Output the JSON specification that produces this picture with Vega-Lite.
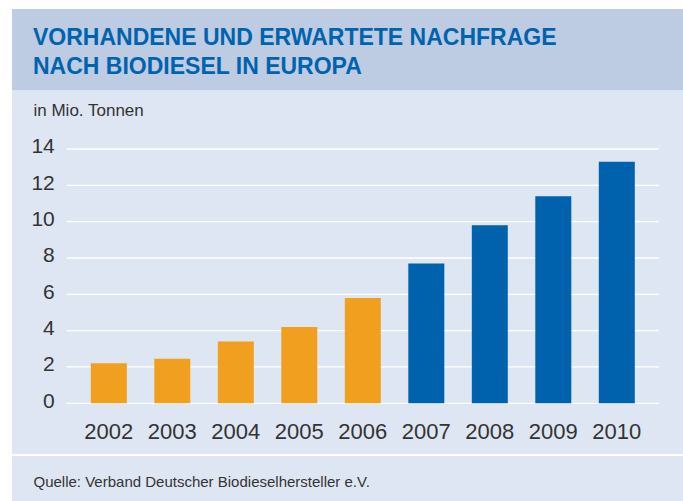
{
  "$schema": "https://vega.github.io/schema/vega-lite/v6.json",
  "background": "#ffffff",
  "padding": {"left": 12, "top": 9, "right": 0, "bottom": 0},
  "spacing": 0,
  "bounds": "flush",
  "config": {"view": {"stroke": null}, "font": "Liberation Sans"},
  "vconcat": [
    {
      "width": 671,
      "height": 81,
      "view": {"fill": "#bdcbe3", "stroke": null},
      "title": {
        "text": ["VORHANDENE UND ERWARTETE NACHFRAGE", "NACH BIODIESEL IN EUROPA"],
        "anchor": "start", "frame": "group", "orient": "top", "offset": 0,
        "dx": 21, "dy": 88.3, "baseline": "alphabetic",
        "font": "Liberation Sans", "fontSize": 23, "fontWeight": "bold",
        "color": "#0063ad", "lineHeight": 29.3
      },
      "data": {"values": [{}]},
      "mark": {"type": "text", "text": ""},
      "encoding": {}
    },
    {
      "spacing": 2,
      "bounds": "flush",
      "vconcat": [
        {
          "width": 671,
          "height": 364,
          "view": {"fill": "#dfe6f3", "stroke": null},
          "title": {
            "text": "in Mio. Tonnen",
            "anchor": "start", "frame": "group", "orient": "top", "offset": 0,
            "dx": 21.5, "dy": 43, "baseline": "alphabetic",
            "font": "Liberation Sans", "fontSize": 17, "fontWeight": "normal",
            "color": "#333333"
          },
          "data": {
            "values": [
              {"year": "2002", "value": 2.2, "status": "vorhanden"},
              {"year": "2003", "value": 2.45, "status": "vorhanden"},
              {"year": "2004", "value": 3.4, "status": "vorhanden"},
              {"year": "2005", "value": 4.2, "status": "vorhanden"},
              {"year": "2006", "value": 5.8, "status": "vorhanden"},
              {"year": "2007", "value": 7.7, "status": "erwartet"},
              {"year": "2008", "value": 9.8, "status": "erwartet"},
              {"year": "2009", "value": 11.4, "status": "erwartet"},
              {"year": "2010", "value": 13.3, "status": "erwartet"}
            ]
          },
          "layer": [
            {
              "data": {"values": [{"g": 0}, {"g": 2}, {"g": 4}, {"g": 6}, {"g": 8}, {"g": 10}, {"g": 12}, {"g": 14}]},
              "mark": {"type": "rule", "color": "#ffffff", "strokeWidth": 1.3},
              "encoding": {
                "y": {
                  "field": "g", "type": "quantitative",
                  "axis": {
                    "title": null, "values": [0, 2, 4, 6, 8, 10, 12, 14], "domain": false,
                    "ticks": false, "tickSize": 0, "labelPadding": 0, "offset": -42.3,
                    "grid": false, "labelFontSize": 21, "labelColor": "#333333",
                    "labelFont": "Liberation Sans", "labelBaseline": "middle", "labelOffset": -2,
                    "labelFlush": false, "labelOverlap": false
                  }
                },
                "x": {
                  "datum": "2002", "type": "ordinal", "bandPosition": -0.669,
                  "axis": {
                    "title": null, "labelAngle": 0, "domain": false, "ticks": false, "tickSize": 0,
                    "labelPadding": 0, "offset": -15.7, "labelBaseline": "alphabetic",
                    "labelFontSize": 22, "labelColor": "#333333", "labelFont": "Liberation Sans",
                    "grid": false, "labelOverlap": false
                  }
                },
                "x2": {"datum": "2010", "bandPosition": 1.672}
              }
            },
            {
              "mark": {"type": "bar"},
              "encoding": {
                "x": {
                  "field": "year", "type": "ordinal",
                  "scale": {
                    "domain": ["2002", "2003", "2004", "2005", "2006", "2007", "2008", "2009", "2010"],
                    "paddingInner": 0.4331, "paddingOuter": 1.0, "align": 0.6205
                  },
                  "axis": {
                    "title": null, "labelAngle": 0, "domain": false, "ticks": false, "tickSize": 0,
                    "labelPadding": 0, "offset": -15.7, "labelBaseline": "alphabetic",
                    "labelFontSize": 22, "labelColor": "#333333", "labelFont": "Liberation Sans",
                    "grid": false, "labelOverlap": false
                  }
                },
                "y": {
                  "field": "value", "type": "quantitative",
                  "scale": {"domain": [-2.791, 17.248], "nice": false, "zero": false},
                  "axis": {
                    "title": null, "values": [0, 2, 4, 6, 8, 10, 12, 14], "domain": false,
                    "ticks": false, "tickSize": 0, "labelPadding": 0, "offset": -42.3,
                    "grid": false, "labelFontSize": 21, "labelColor": "#333333",
                    "labelFont": "Liberation Sans", "labelBaseline": "middle", "labelOffset": -2,
                    "labelFlush": false, "labelOverlap": false
                  }
                },
                "y2": {"datum": 0},
                "color": {
                  "field": "status", "type": "nominal",
                  "scale": {"domain": ["vorhanden", "erwartet"], "range": ["#f0a01e", "#0062ad"]},
                  "legend": null
                }
              }
            }
          ]
        },
        {
          "width": 671,
          "height": 46,
          "view": {"fill": "#dfe6f3", "stroke": null},
          "title": {
            "text": "Quelle: Verband Deutscher Biodieselhersteller e.V.",
            "anchor": "start", "frame": "group", "orient": "top", "offset": 0,
            "dx": 21.5, "dy": 46.3, "baseline": "alphabetic",
            "font": "Liberation Sans", "fontSize": 15, "fontWeight": "normal",
            "color": "#333333"
          },
          "data": {"values": [{}]},
          "mark": {"type": "text", "text": ""},
          "encoding": {}
        }
      ]
    }
  ]
}
